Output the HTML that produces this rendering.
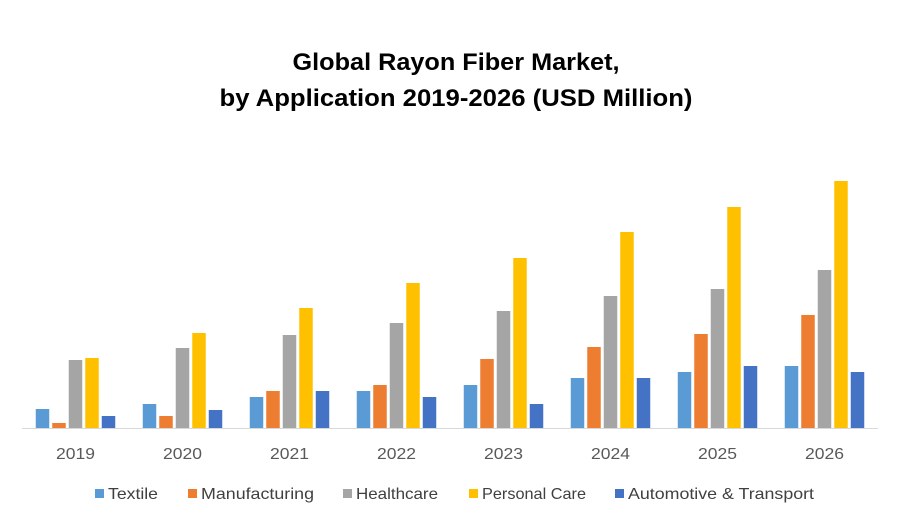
<!DOCTYPE html>
<html><head><meta charset="utf-8"><style>
body{margin:0;background:#fff;}
svg{display:block;font-family:"Liberation Sans",Arial,sans-serif;}
</style></head><body>
<svg id="chart" width="900" height="525">
<text x="456" y="70" text-anchor="middle" font-size="24" font-weight="bold" fill="#000" textLength="327" lengthAdjust="spacingAndGlyphs">Global Rayon Fiber Market,</text>
<text x="456" y="106" text-anchor="middle" font-size="24" font-weight="bold" fill="#000" textLength="473" lengthAdjust="spacingAndGlyphs">by Application 2019-2026 (USD Million)</text>
<line x1="22" y1="428.5" x2="878" y2="428.5" stroke="#d9d9d9" stroke-width="1"/>
<g id="bars"></g>
<g id="xlabels"></g>
<g id="legend"></g>
</svg>
<script>
const categories = ["2019","2020","2021","2022","2023","2024","2025","2026"];
const seriesNames = ["Textile","Manufacturing","Healthcare","Personal Care","Automotive & Transport"];
const textile = [19,24,31,37,43,50,56,62];
const manufacturing = [5,12,37,43,69,81,94,113];
const healthcare = [68,80,93,105,117,132,139,158];
const personalCare = [70,95,120,145,170,196,221,247];
const automotive = [12,18,37,31,24,50,62,56];
const seriesValues = [textile,manufacturing,healthcare,personalCare,automotive];
const colors = ["#5b9bd5","#ed7d31","#a5a5a5","#ffc000","#4472c4"];

const ns = "http://www.w3.org/2000/svg";
const x0 = 22, x1 = 878, baseY = 428, pxPerUnit = 1;
const catW = (x1 - x0) / categories.length;
const barW = 13.5, barStep = 16.5;
function xScale(ci, si){ return x0 + catW*ci + catW/2 + (si - 2)*barStep - barW/2; }
function yScale(v){ return baseY - v*pxPerUnit; }

const bars = document.getElementById('bars');
seriesValues.forEach((vals, si) => {
  vals.forEach((v, ci) => {
    const r = document.createElementNS(ns,'rect');
    r.setAttribute('x', xScale(ci, si));
    r.setAttribute('y', yScale(v));
    r.setAttribute('width', barW);
    r.setAttribute('height', baseY - yScale(v));
    r.setAttribute('fill', colors[si]);
    
    
    bars.appendChild(r);
  });
});
const xl = document.getElementById('xlabels');
categories.forEach((c, ci) => {
  const t = document.createElementNS(ns,'text');
  t.setAttribute('x', x0 + catW*ci + catW/2);
  t.setAttribute('y', 459);
  t.setAttribute('text-anchor','middle');
  t.setAttribute('font-size','16');
  t.setAttribute('textLength','39');
  t.setAttribute('lengthAdjust','spacingAndGlyphs');
  t.setAttribute('fill','#595959');
  t.textContent = c;
  
  
  xl.appendChild(t);
});
const lg = document.getElementById('legend');
const legendX = [95, 188, 343, 469, 615];
const legendW = [50, 113, 82, 104, 186];
seriesNames.forEach((n, si) => {
  const g = document.createElementNS(ns,'g');
  
  
  const r = document.createElementNS(ns,'rect');
  r.setAttribute('x', legendX[si]); r.setAttribute('y', 489);
  r.setAttribute('width', 9); r.setAttribute('height', 9);
  r.setAttribute('fill', colors[si]);
  const t = document.createElementNS(ns,'text');
  t.setAttribute('x', legendX[si] + 13); t.setAttribute('y', 499);
  t.setAttribute('font-size','16'); t.setAttribute('fill','#404040');
  t.setAttribute('textLength', legendW[si]);
  t.setAttribute('lengthAdjust','spacingAndGlyphs');
  t.textContent = n;
  g.appendChild(r); g.appendChild(t); lg.appendChild(g);
});
</script>
</body></html>
